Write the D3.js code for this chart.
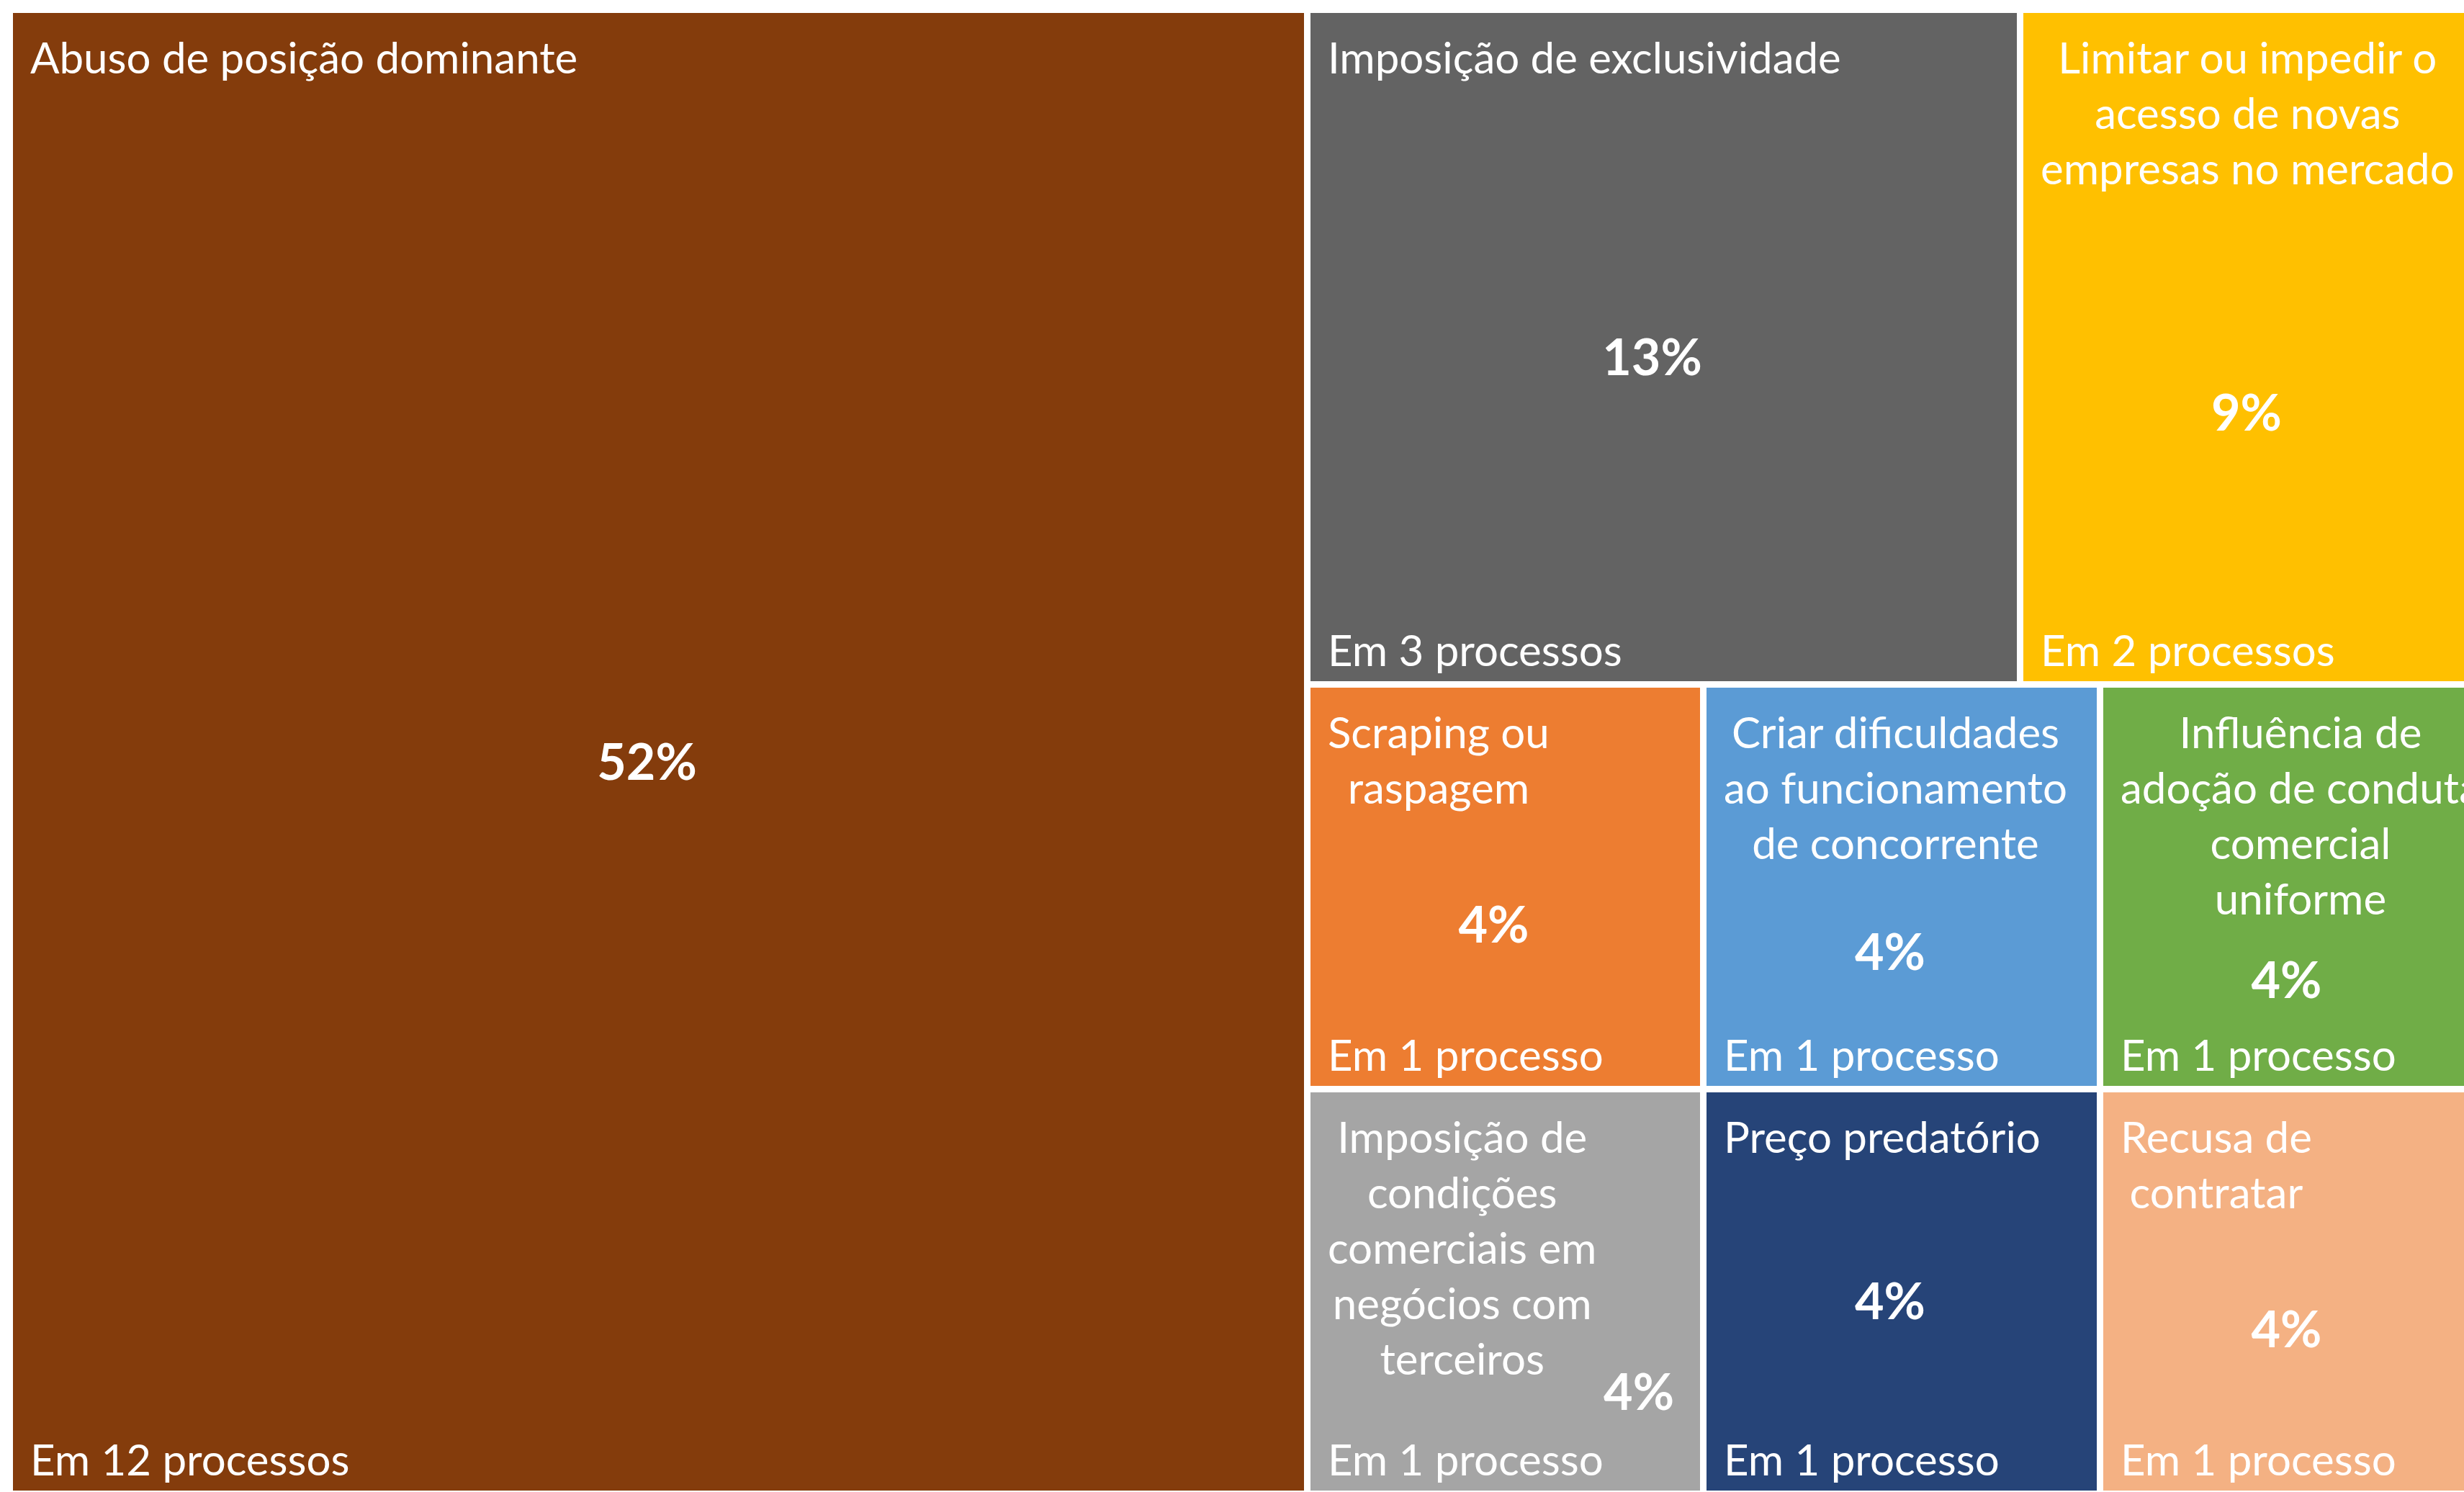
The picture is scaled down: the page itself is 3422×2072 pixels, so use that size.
<!DOCTYPE html>
<html>
<head>
<meta charset="utf-8">
<script src="https://cdn.jsdelivr.net/npm/d3@7"></script>
<style>
  html, body { margin: 0; padding: 0; background: #fff; overflow: hidden; }
  svg.chart { display: block; }
  svg.chart text { font-family: Lato, "Open Sans", sans-serif; fill: #fff; }
</style>
</head>
<body>
<svg class="chart"></svg>
<script>
//-----------------------------------------------------------------------
// treemap: condutas investigadas (numero de processos)
//-----------------------------------------------------------------------
const width = 3422
const height = 2072

// data
const categories = [
  "Abuso de posição dominante",
  "Imposição de exclusividade",
  "Limitar ou impedir o\nacesso de novas\nempresas no mercado",
  "Scraping ou\nraspagem",
  "Imposição de\ncondições\ncomerciais em\nnegócios com\nterceiros",
  "Criar dificuldades\nao funcionamento\nde concorrente",
  "Influência de\nadoção de conduta\ncomercial\nuniforme",
  "Preço predatório",
  "Recusa de\ncontratar"
]
const processes = [12, 3, 2, 1, 1, 1, 1, 1, 1]
const colors = ["#843C0C", "#636363", "#FFC000", "#ED7D31", "#A5A5A5",
                "#5B9BD5", "#70AD47", "#264478", "#F4B183"]

// layout
const box = {x0: 18, y0: 18, x1: 3462, y1: 2070}
const pad = 24
const nameSize = 60
const lineH = 77
const firstLine = 84
const valueSize = 70

const svg = d3.select('svg.chart')
  .attr('width', width)
  .attr('height', height)

const total = d3.sum(processes)
const pct = d3.format('.0%')

const root = d3.hierarchy({
    children: categories.map((c, i) => ({ name: c, value: processes[i], color: colors[i] }))
  })
  .sum(d => d.value || 0)

d3.treemap()
  .tile(d3.treemapSquarify.ratio(1))
  .size([box.x1 - box.x0, box.y1 - box.y0])
  .paddingInner(9)
  .round(true)(root)

const cells = svg.append('g')
  .attr('transform', `translate(${box.x0}, ${box.y0})`)
  .selectAll('g.cell')
  .data(root.leaves())
  .join('g')
  .attr('class', 'cell')
  .attr('transform', d => `translate(${d.x0}, ${d.y0})`)

cells.append('rect')
  .attr('width', d => d.x1 - d.x0)
  .attr('height', d => d.y1 - d.y0)
  .attr('fill', d => d.data.color)

cells.each(function (d) {
  const g = d3.select(this)
  const w = d.x1 - d.x0
  const h = d.y1 - d.y0
  const lines = d.data.name.split('\n')

  // name: lines centred inside a block sitting at the left pad
  const name = g.append('g').attr('class', 'name')
  const texts = lines.map((l, i) => name.append('text')
    .attr('y', firstLine + i * lineH)
    .attr('font-size', nameSize)
    .text(l))
  const widths = texts.map(t => t.node().getComputedTextLength())
  const blockW = d3.max(widths)
  texts.forEach((t, i) => t.attr('x', pad + (blockW - widths[i]) / 2))

  // number of processes at the bottom
  const countY = h - 21
  const n = d.data.value
  g.append('text')
    .attr('x', pad)
    .attr('y', countY)
    .attr('font-size', nameSize)
    .text(`Em ${n} ${n > 1 ? 'processos' : 'processo'}`)

  // share of the total
  const lastY = firstLine + (lines.length - 1) * lineH
  const value = g.append('text')
    .attr('font-size', valueSize)
    .attr('font-weight', 'bold')
    .text(pct(n / total))

  if (countY - lastY < 200) {
    // no room below the name: sits at the right of its last line
    value.attr('text-anchor', 'end')
      .attr('x', w - 36)
      .attr('y', lastY + 49)
  } else {
    value.attr('text-anchor', 'middle')
      .attr('x', w / 2 - 16)
      .attr('y', (lastY + countY) / 2 - 18 + valueSize * 0.36)
  }
})
</script>
</body>
</html>
